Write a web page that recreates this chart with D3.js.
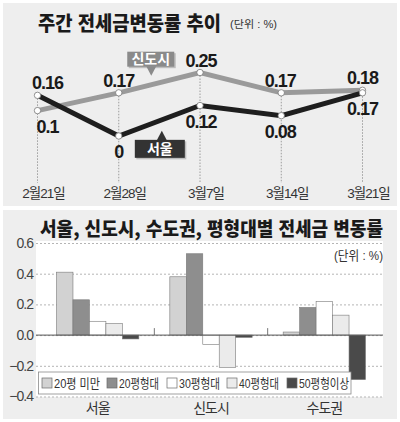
<!DOCTYPE html>
<html lang="ko">
<head>
    <meta charset="UTF-8">
    <title>전세금 변동률</title>
    <style>
        body, html { margin: 0; padding: 0; background: #fff; }
        svg { display: block; font-family: "Liberation Sans", "Noto Sans CJK KR", sans-serif; }
    </style>
</head>
<body>
    <svg id="svg" width="400" height="422"></svg>

    <script src="https://d3js.org/d3.v7.min.js"></script>
    <script>
        // weekly change (top chart)
        const weeks = ["2월21일", "2월28일", "3월7일", "3월14일", "3월21일"];
        const seoulWeekly = [0.16, 0, 0.12, 0.08, 0.17];
        const newTownWeekly = [0.1, 0.17, 0.25, 0.17, 0.18];

        // change by apartment size (bottom chart)
        const regions = ["서울", "신도시", "수도권"];
        const sizeClasses = ["20평 미만", "20평형대", "30평형대", "40평형대", "50평형이상"];
        const seoulBySize = [0.41, 0.23, 0.09, 0.075, -0.025];
        const newTownBySize = [0.38, 0.53, -0.06, -0.21, -0.015];
        const metroBySize = [0.02, 0.18, 0.22, 0.13, -0.29];
        const barTicks = [0.6, 0.4, 0.2, 0.0, -0.2, -0.4];

        const sizeColors = ["#d2d2d2", "#8e8e8e", "#ffffff", "#ebebeb", "#4a4a4a"];

        const svg = d3.select("#svg");

        // panels
        svg.append("rect").attr("x", 3).attr("y", 3).attr("width", 394).attr("height", 203).attr("fill", "#eeeeee");
        svg.append("rect").attr("x", 3).attr("y", 210).attr("width", 394).attr("height", 209).attr("fill", "#eeeeee");

        // ---------- top chart ----------
        svg.append("text")
            .attr("x", 38).attr("y", 31)
            .attr("textLength", 183).attr("lengthAdjust", "spacingAndGlyphs")
            .style("font-family", "'Noto Sans CJK KR'")
            .style("font-size", "20px").style("font-weight", "900").attr("fill", "#1a1a1a")
            .text("주간 전세금변동률 추이");
        svg.append("text")
            .attr("x", 230).attr("y", 28)
            .attr("textLength", 47).attr("lengthAdjust", "spacingAndGlyphs")
            .style("font-size", "10.5px").attr("fill", "#333")
            .text("(단위 : %)");

        const xTop = d3.scalePoint().domain(weeks).range([37.5, 362.5]);
        const yTop = d3.scaleLinear().domain([0, 0.25]).range([136, 72.5]);

        const seoulPts = weeks.map((w, i) => ({ w, v: seoulWeekly[i] }));
        const newTownPts = weeks.map((w, i) => ({ w, v: newTownWeekly[i] }));

        // dashed drop lines
        svg.append("g").selectAll("line")
            .data(weeks)
            .join("line")
            .attr("x1", d => xTop(d)).attr("x2", d => xTop(d))
            .attr("y1", (d, i) => yTop(Math.max(seoulWeekly[i], newTownWeekly[i])))
            .attr("y2", 183)
            .attr("stroke", "#888").attr("stroke-width", 0.8)
            .attr("stroke-dasharray", "1.5,1.5");

        const line = d3.line().x(d => xTop(d.w)).y(d => yTop(d.v));

        svg.append("path").datum(newTownPts)
            .attr("fill", "none").attr("stroke", "#9a9a9a").attr("stroke-width", 5)
            .attr("d", line);
        svg.append("path").datum(seoulPts)
            .attr("fill", "none").attr("stroke", "#1e1e1e").attr("stroke-width", 5)
            .attr("d", line);

        svg.append("g").selectAll("circle")
            .data(newTownPts.concat(seoulPts))
            .join("circle")
            .attr("cx", d => xTop(d.w)).attr("cy", d => yTop(d.v)).attr("r", 3.2)
            .attr("fill", "#fff").attr("stroke", "#777").attr("stroke-width", 0.8);

        // value labels: -1 above, +1 below
        const seoulSide = [-1, 1, 1, 1, 1];
        const newTownSide = [1, -1, -1, -1, -1];
        const labelShift = [10, 0, 1, -1, 0];

        function valueLabels(pts, sides) {
            svg.append("g").selectAll("text")
                .data(pts)
                .join("text")
                .attr("x", (d, i) => xTop(d.w) + labelShift[i])
                .attr("y", (d, i) => yTop(d.v) + (sides[i] < 0 ? -6 : 22))
                .attr("text-anchor", "middle")
                .style("font-size", "18px").style("font-weight", "bold")
                .style("letter-spacing", "-1px")
                .attr("fill", "#1a1a1a")
                .text(d => d.v === 0 ? "0" : d3.format("")(d.v));
        }
        valueLabels(newTownPts, newTownSide);
        valueLabels(seoulPts, seoulSide);

        // x labels
        svg.append("g").selectAll("text")
            .data(weeks)
            .join("text")
            .attr("x", d => xTop(d) + 6).attr("y", 198)
            .attr("text-anchor", "middle")
            .style("font-size", "13.5px").style("letter-spacing", "-1px")
            .attr("fill", "#333")
            .text(d => d);

        // series callouts
        function callout(pts, frac, offset, name, fill, up) {
            const x = xTop(pts[1].w) + frac * (xTop(pts[2].w) - xTop(pts[1].w));
            const y = yTop(pts[1].v) + frac * (yTop(pts[2].v) - yTop(pts[1].v)) + offset;
            const w = name.length > 2 ? 47 : 50, h = up ? 18 : 15;
            const bx = x - (up ? 27 : 24);
            const by = up ? y + 9 : y - 9 - h;
            const g = svg.append("g");
            g.append("rect").attr("x", bx + 1.5).attr("y", by + 1.5).attr("width", w).attr("height", h).attr("fill", "#bdbdbd");
            g.append("rect").attr("x", bx).attr("y", by).attr("width", w).attr("height", h).attr("fill", fill);
            g.append("path")
                .attr("d", up
                    ? `M${x - 5},${y + 9.5}L${x},${y}L${x + 5},${y + 9.5}Z`
                    : `M${x - 5},${y - 9.5}L${x},${y}L${x + 5},${y - 9.5}Z`)
                .attr("fill", fill);
            g.append("text")
                .attr("x", bx + w / 2).attr("y", by + h / 2 + 5)
                .attr("text-anchor", "middle")
                .style("font-family", "'Noto Sans CJK KR'")
                .style("font-size", "14px").style("font-weight", "bold")
                .attr("fill", "#fff")
                .text(name);
        }
        callout(newTownPts, 0.4, -9, "신도시", "#8a8a8a", false);
        callout(seoulPts, 0.53, 11, "서울", "#333333", true);

        // ---------- bottom chart ----------
        svg.append("text")
            .attr("x", 40).attr("y", 236)
            .attr("textLength", 343).attr("lengthAdjust", "spacingAndGlyphs")
            .style("font-family", "'Noto Sans CJK KR'")
            .style("font-size", "19px").style("font-weight", "900").attr("fill", "#1a1a1a")
            .text("서울, 신도시, 수도권, 평형대별 전세금 변동률");

        const plot = { left: 36, right: 383, top: 241, bottom: 397 };
        svg.append("rect")
            .attr("x", plot.left).attr("y", plot.top)
            .attr("width", plot.right - plot.left).attr("height", plot.bottom - plot.top)
            .attr("fill", "#fff");

        const x0 = d3.scaleBand().domain(regions).range([41, 381]);
        const x1 = d3.scaleBand().domain(sizeClasses).range([15.5, x0.bandwidth() - 15.5]);
        const yBar = d3.scaleLinear().domain([-0.4, 0.6]).range([396.5, 243]);

        const leftAxis = d3.axisLeft(yBar)
            .tickValues(barTicks)
            .tickSize(-(plot.right - plot.left))
            .tickPadding(3)
            .tickFormat(d3.format(".1f"));

        const yAxisG = svg.append("g")
            .attr("transform", `translate(${plot.left}, 0)`)
            .call(leftAxis);
        yAxisG.select(".domain").remove();
        yAxisG.selectAll(".tick line")
            .attr("stroke", "#b5b5b5").attr("stroke-dasharray", "2,2");
        yAxisG.selectAll(".tick text")
            .style("font-size", "14px").style("letter-spacing", "-1px")
            .style("font-family", "'Liberation Sans'")
            .attr("fill", "#444");

        svg.append("text")
            .attr("x", 383).attr("y", 260)
            .attr("text-anchor", "end")
            .attr("textLength", 49).attr("lengthAdjust", "spacingAndGlyphs")
            .style("font-size", "13px").attr("fill", "#333")
            .text("(단위 : %)");

        const groups = [seoulBySize, newTownBySize, metroBySize];
        const barData = [];
        regions.forEach((r, i) => {
            sizeClasses.forEach((s, j) => barData.push({ region: r, size: s, idx: j, v: groups[i][j] }));
        });

        svg.append("g").selectAll("rect")
            .data(barData)
            .join("rect")
            .attr("x", d => x0(d.region) + x1(d.size))
            .attr("width", x1.bandwidth())
            .attr("y", d => yBar(Math.max(0, d.v)))
            .attr("height", d => Math.abs(yBar(d.v) - yBar(0)))
            .attr("fill", d => sizeColors[d.idx])
            .attr("stroke", "#7a7a7a").attr("stroke-width", 0.6);

        // zero line and group separators
        svg.append("line")
            .attr("x1", plot.left).attr("x2", plot.right)
            .attr("y1", yBar(0)).attr("y2", yBar(0))
            .attr("stroke", "#555").attr("stroke-width", 1);
        svg.append("g").selectAll("line")
            .data(regions.slice(1))
            .join("line")
            .attr("x1", d => x0(d)).attr("x2", d => x0(d))
            .attr("y1", yBar(0) - 7).attr("y2", yBar(0))
            .attr("stroke", "#555").attr("stroke-width", 0.8);

        // category labels
        svg.append("g").selectAll("text")
            .data(regions)
            .join("text")
            .attr("x", d => x0(d) + x0.bandwidth() / 2).attr("y", 413)
            .attr("text-anchor", "middle")
            .style("font-size", "14px").style("letter-spacing", "-1px")
            .attr("fill", "#333")
            .text(d => d);

        // legend
        const legend = svg.append("g");
        legend.append("rect")
            .attr("x", 38.5).attr("y", 372).attr("width", 312.5).attr("height", 22)
            .attr("fill", "#fff").attr("stroke", "#8a8a8a").attr("stroke-width", 0.8);
        const legendX = [42, 107, 167, 227, 287];
        const item = legend.selectAll("g.item")
            .data(sizeClasses)
            .join("g")
            .attr("class", "item")
            .attr("transform", (d, i) => `translate(${legendX[i]}, 378)`);
        item.append("rect")
            .attr("width", 10).attr("height", 10)
            .attr("fill", (d, i) => sizeColors[i])
            .attr("stroke", "#6a6a6a").attr("stroke-width", 0.7);
        item.append("text")
            .attr("x", 12).attr("y", 10)
            .attr("textLength", (d, i) => [46, 40, 41, 40, 50][i])
            .attr("lengthAdjust", "spacingAndGlyphs")
            .style("font-size", "13px")
            .attr("fill", "#333")
            .text(d => d);
    </script>
</body>
</html>
